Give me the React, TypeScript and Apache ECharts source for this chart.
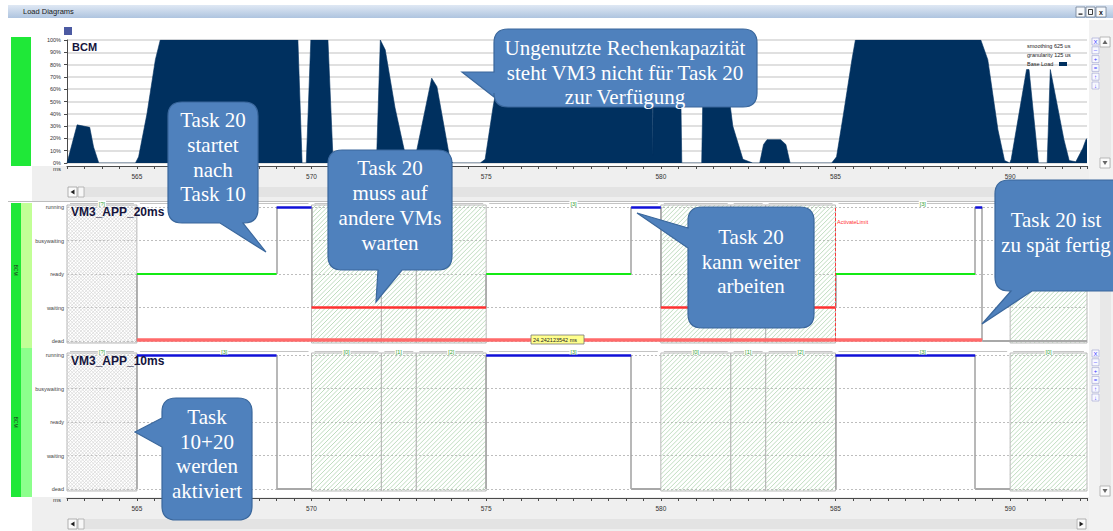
import React, { useEffect, useRef } from "react";
import * as echarts from "echarts";

// ---------------- data ----------------
const TIME_MIN = 563;
const TIME_MAX = 592.2;

// BCM base load (%), sampled change points [ms]
const loadTimes = [563.0,563.29,563.65,563.76,563.91,564.96,565.05,565.29,565.53,565.67,569.61,569.73,569.85,569.98,570.47,570.62,571.76,571.87,571.97,572.11,572.39,572.62,572.74,572.94,573.01,573.44,573.59,573.97,574.05,574.83,574.97,575.2,575.54,579.75,579.77,579.79,580.55,580.6,581.17,581.23,581.75,582.06,582.35,582.63,582.83,582.94,583.04,583.43,583.58,583.7,584.89,585.03,585.23,585.47,585.57,589.16,589.36,589.65,589.84,589.99,590.03,590.47,590.54,590.81,591.06,591.15,591.54,591.69,591.88,592.08,592.17,592.2];
const loadValues = [0,31,29,13,0,0,5,40,84,100,100,0,0,100,100,0,0,10,100,92,45,15,0,0,10,69,62,2,0,0,3,46,100,100,6,100,100,0,0,100,100,30,3,0,0,15,19,19,15,0,0,5,40,84,100,100,84,27,2,0,3,76,76,0,0,76,19,2,1,12,19,20];

const stateNames = ["dead", "waiting", "ready", "busywaiting", "running"];

// VM3_APP_20ms (Task 20): state in [times[i], times[i+1]]
const task20Times = [563, 565, 569, 570, 575, 579.15, 580, 585, 589, 589.2, 592.2];
const task20States = ["inactive", "ready", "running", "waiting", "ready", "running", "waiting", "ready", "running", "dead"];
const task20Deadline = [565, 589.2];

// VM3_APP_10ms (Task 10)
const task10Times = [563, 565, 569, 570, 575, 579.15, 580, 585, 589, 590, 592.2];
const task10States = ["inactive", "running", "dead", "suspended", "running", "dead", "suspended", "running", "dead", "suspended"];

const inactiveSpan = [563, 565];
const waitSpans = [[570, 572], [572, 573], [573, 575], [580, 582], [582, 583], [583, 585], [590, 592.2]];

const segBounds = [563, 565, 570, 572, 573, 575, 580, 582, 583, 585, 590, 592.2];
const segLabels = ["?", "3", "0", "1", "2", "3", "0", "1", "2", "3", "0"];

const activateLimit = 585;
const cursorText = "24.242123542 ms";

const legendLines = ["smoothing 625 us", "granularity 125 us", "Base Load"];
const toolIcons = ["X", "\u2013", "+", "=", "\u2191", "\u2193"];

// ---------------- annotations ----------------
const CALLOUTS: any[] = [
  { x: 168, y: 102, w: 90, h: 121, side: "bottom", a: 220, b: 243, tx: 266, ty: 252, cx: 213, lines: ["Task 20", "startet", "nach", "Task 10"], ys: [120, 145, 169.5, 194] },
  { x: 328, y: 150, w: 124, h: 120, side: "bottom", a: 378, b: 402, tx: 376, ty: 302, cx: 390, lines: ["Task 20", "muss auf", "andere VMs", "warten"], ys: [168, 193, 218, 243] },
  { x: 494, y: 29, w: 263, h: 78, side: "left", a: 72, b: 97, tx: 462, ty: 72, cx: 625, lines: ["Ungenutzte Rechenkapazität", "steht VM3 nicht für Task 20", "zur Verfügung"], ys: [48, 72.5, 97] },
  { x: 688, y: 207, w: 126, h: 121, side: "left", a: 228, b: 248, tx: 637, ty: 213, cx: 751, lines: ["Task 20", "kann weiter", "arbeiten"], ys: [237, 261.5, 286] },
  { x: 995, y: 180, w: 135, h: 111, side: "bottom", a: 1011, b: 1032, tx: 982, ty: 324, cx: 1056, lines: ["Task 20 ist", "zu spät fertig"], ys: [220, 245] },
  { x: 162, y: 398, w: 90, h: 122, side: "left", a: 418, b: 447, tx: 135, ty: 432, cx: 207, lines: ["Task", "10+20", "werden", "aktiviert"], ys: [417, 441.5, 466, 490.5] },
];

function calloutPath(c: any) {
  const { x, y, w, h } = c;
  const r = 14;
  const x2 = x + w, y2 = y + h;
  let d = `M${x + r} ${y} L${x2 - r} ${y} Q${x2} ${y} ${x2} ${y + r} L${x2} ${y2 - r} Q${x2} ${y2} ${x2 - r} ${y2} `;
  if (c.side === "bottom") d += `L${c.b} ${y2} L${c.tx} ${c.ty} L${c.a} ${y2} `;
  d += `L${x + r} ${y2} Q${x} ${y2} ${x} ${y2 - r} `;
  if (c.side === "left") d += `L${x} ${c.b} L${c.tx} ${c.ty} L${x} ${c.a} `;
  d += `L${x} ${y + r} Q${x} ${y} ${x + r} ${y} Z`;
  return d;
}

CALLOUTS.forEach((c, i) => {
  echarts.graphic.registerShape("callout" + i, echarts.graphic.extendPath(calloutPath(c), {}));
});

function underCallout(px: number, py: number) {
  return CALLOUTS.some((c) => px > c.x - 6 && px < c.x + c.w + 6 && py > c.y - 4 && py < c.y + c.h + 4);
}

const LEVEL: any = { inactive: 0, dead: 0, suspended: 0, waiting: 1, ready: 2, busywaiting: 3, running: 4 };
const COLOR: any = { ready: "#14ea14", running: "#1010d8", waiting: "#ff3030", dead: "#a8a8a8" };
const WIDTH: any = { ready: 2, running: 2.5, waiting: 2.5, dead: 2 };

function buildSegments(times: number[], states: string[]) {
  const horiz: any[] = [];
  const vert: any[] = [];
  for (let i = 0; i < states.length; i++) {
    const st = states[i];
    const lv = LEVEL[st];
    const t0 = times[i], t1 = times[i + 1];
    if (i > 0) {
      const plv = LEVEL[states[i - 1]];
      if (plv !== lv) vert.push({ coords: [[t0, plv], [t0, lv]] });
    }
    if (COLOR[st]) horiz.push({ coords: [[t0, lv], [t1, lv]], lineStyle: { color: COLOR[st], width: WIDTH[st], opacity: 1 } });
  }
  return { horiz, vert };
}

const FONT = "Liberation Sans, Arial, sans-serif";

function hatchRender(params: any, api: any) {
  const s = api.value(0), e = api.value(1), kind = api.value(2);
  const tl = api.coord([s, 4]);
  const br = api.coord([e, 0]);
  const x0 = tl[0], x1 = br[0], y0 = tl[1] - 2, y1 = br[1] + 2;
  const children: any[] = [];
  const step = kind === 1 ? 3.5 : 4.5;
  const color = kind === 1 ? "#d6d6d6" : "#a4cda4";
  for (let c = x0 + y0 + step; c < x1 + y1; c += step) {
    const xa = Math.max(x0, c - y1), xb = Math.min(x1, c - y0);
    if (xb <= xa) continue;
    children.push({ type: "line", silent: true, shape: { x1: xa, y1: c - xa, x2: xb, y2: c - xb }, style: { stroke: color, lineWidth: 0.7 } });
  }
  if (kind === 1) {
    for (let c = y0 - x1 + step; c < y1 - x0; c += step) {
      const xa = Math.max(x0, y0 - c), xb = Math.min(x1, y1 - c);
      if (xb <= xa) continue;
      children.push({ type: "line", silent: true, shape: { x1: xa, y1: xa + c, x2: xb, y2: xb + c }, style: { stroke: color, lineWidth: 0.7 } });
    }
  }
  children.push({ type: "rect", silent: true, shape: { x: x0, y: y0, width: x1 - x0, height: y1 - y0 }, style: { fill: "none", stroke: "#b9b9b9", lineWidth: 1 } });
  return { type: "group", children };
}

function tabRender(params: any, api: any) {
  const s = api.value(0), e = api.value(1), idx = api.value(2);
  const a = api.coord([s, 4]);
  const b = api.coord([e, 4]);
  const y = a[1] - 3.5;
  const cx = (a[0] + b[0]) / 2;
  const children: any[] = [
    { type: "line", silent: true, shape: { x1: a[0] + 3, y1: y, x2: b[0] - 3, y2: y }, style: { stroke: "#c4c4c4", lineWidth: 1 } },
  ];
  if (!underCallout(cx, y)) {
    children.push({ type: "text", silent: true, x: cx, y, style: { text: "[" + segLabels[idx] + "]", fill: "#2e9e2e", fontSize: 5.5, fontFamily: FONT, align: "center", verticalAlign: "middle", textAlign: "center", textVerticalAlign: "middle", backgroundColor: "#ffffff", padding: [0, 1] } });
  }
  return { type: "group", children };
}

function txt(x: number, y: number, text: string, size: number, fill: string, o: any = {}) {
  return {
    type: "text", x, y, z: o.z ?? 20, silent: true, rotation: o.rotation ?? 0,
    style: {
      text, fill, fontSize: size, fontFamily: o.family ?? FONT, fontWeight: o.weight ?? "normal",
      align: o.align ?? "left", verticalAlign: o.valign ?? "middle", textAlign: o.align ?? "left", textVerticalAlign: o.valign ?? "middle",
    },
  };
}
function rect(x: number, y: number, w: number, h: number, fill: any, o: any = {}) {
  return { type: "rect", z: o.z ?? -10, silent: true, shape: { x, y, width: w, height: h }, style: { fill, stroke: o.stroke, lineWidth: o.lw ?? 1 } };
}
function tri(points: number[][], fill: string) {
  return { type: "polygon", z: 5, silent: true, shape: { points }, style: { fill } };
}

function buildOption() {
  const hatchData = [[inactiveSpan[0], inactiveSpan[1], 1], ...waitSpans.map((s) => [s[0], s[1], 0])];
  const tabData = segLabels.map((_, i) => [segBounds[i], segBounds[i + 1], i]);
  const t20 = buildSegments(task20Times, task20States);
  const t10 = buildSegments(task10Times, task10States);
  const deadline = { coords: [[task20Deadline[0], 0.05], [task20Deadline[1], 0.05]], lineStyle: { color: "#ff6a6a", width: 3.5, opacity: 1 } };

  const xBase = (grid: number, offset: number, show: boolean) => ({
    type: "value", gridIndex: grid, min: TIME_MIN, max: TIME_MAX, interval: 0.5, offset, show,
    axisLine: { show: true, onZero: false, lineStyle: { color: "#4a4a4a", width: 1 } },
    axisTick: { show: true, length: 3, lineStyle: { color: "#4a4a4a" } },
    axisLabel: { fontSize: 6.5, color: "#333", margin: 7, fontFamily: FONT, formatter: (v: number) => (Math.abs(v % 5) < 1e-9 ? String(v) : "") },
    splitLine: { show: false },
  });
  const yState = (grid: number) => ({
    type: "value", gridIndex: grid, min: 0, max: 4, interval: 1,
    axisLine: { show: false }, axisTick: { show: false },
    axisLabel: { fontSize: 5.5, color: "#444", margin: 3, fontFamily: FONT, formatter: (v: number) => stateNames[v] ?? "" },
    splitLine: { lineStyle: { color: "#bdbdbd", type: [2, 2], width: 1 } },
  });

  const stateSeries = (axis: number, seg: any, extra: any[]) => [
    { type: "custom", xAxisIndex: axis, yAxisIndex: axis, data: hatchData, renderItem: hatchRender, z: 1, silent: true },
    { type: "custom", xAxisIndex: axis, yAxisIndex: axis, data: tabData, renderItem: tabRender, z: 4, silent: true },
    { type: "lines", coordinateSystem: "cartesian2d", xAxisIndex: axis, yAxisIndex: axis, clip: false, silent: true, z: 2, lineStyle: { color: "#a0a0a0", width: 1.5, curveness: 0, opacity: 1 }, data: seg.vert },
    { type: "lines", coordinateSystem: "cartesian2d", xAxisIndex: axis, yAxisIndex: axis, clip: false, silent: true, z: 3, lineStyle: { curveness: 0, opacity: 1 }, data: [...extra, ...seg.horiz] },
  ];

  const G: any[] = [];
  // window chrome
  G.push(rect(8, 5, 1105, 13, new echarts.graphic.LinearGradient(0, 0, 0, 1, [{ offset: 0, color: "#dfe8f4" }, { offset: 1, color: "#aec4df" }])));
  G.push(txt(23, 11.5, "Load Diagrams", 7.5, "#1a1a1a"));
  G.push(rect(1076, 7, 9, 10, "#f6f8fb", { stroke: "#6f7f96", lw: 0.8, z: 5 }));
  G.push(rect(1086, 7, 9, 10, "#f6f8fb", { stroke: "#6f7f96", lw: 0.8, z: 5 }));
  G.push(rect(1096, 7, 10, 10, "#f6f8fb", { stroke: "#6f7f96", lw: 0.8, z: 5 }));
  G.push(rect(1078.5, 13.5, 4, 1.2, "#111", { z: 6 }));
  G.push(rect(1088.5, 9.5, 4, 5, "none", { stroke: "#111", lw: 0.8, z: 6 }));
  G.push(txt(1101, 12, "x", 7, "#111", { align: "center", weight: "bold", z: 6 }));
  G.push(rect(64, 27, 8, 8, "#4c5aa2", { z: 5 }));
  // side bars
  G.push(rect(11, 37, 20, 129, "#1fe838"));
  G.push(rect(11, 203, 10, 294, "#1fe838"));
  G.push(rect(21, 203, 11, 145, "#c2ff96"));
  G.push(rect(21, 348, 11, 149, "#8cff8c"));
  G.push(txt(16, 270, "BCM", 5, "#1a3a1a", { align: "center", rotation: -Math.PI / 2 }));
  G.push(txt(16, 422, "BCM", 5, "#1a3a1a", { align: "center", rotation: -Math.PI / 2 }));
  // gray panels
  G.push(rect(32, 166, 1057, 35, "#efefef"));
  G.push(rect(32, 497, 1057, 34, "#efefef"));
  G.push(rect(1089, 20, 24, 511, "#f2f2f2"));
  G.push({ type: "line", z: -5, silent: true, shape: { x1: 8, y1: 201.5, x2: 1113, y2: 201.5 }, style: { stroke: "#bdbdbd", lineWidth: 1 } });
  // horizontal scrollbars
  G.push(rect(78, 187, 1005, 10, "#e3e3e3", { z: -6 }));
  G.push(rect(68, 187, 9, 10, "#fbfbfb", { stroke: "#a0a0a0", lw: 0.8, z: -5 }));
  G.push(tri([[70.5, 192], [74.5, 189.5], [74.5, 194.5]], "#222"));
  G.push(rect(78, 187, 6, 10, "#f7f7f7", { stroke: "#a8a8a8", lw: 0.8, z: -5 }));
  G.push(rect(78, 519, 998, 10, "#e3e3e3", { z: -6 }));
  G.push(rect(68, 519, 9, 10, "#fbfbfb", { stroke: "#a0a0a0", lw: 0.8, z: -5 }));
  G.push(tri([[70.5, 524], [74.5, 521.5], [74.5, 526.5]], "#222"));
  G.push(rect(78, 519, 6, 10, "#f7f7f7", { stroke: "#a8a8a8", lw: 0.8, z: -5 }));
  G.push(rect(1077, 519, 9, 10, "#fbfbfb", { stroke: "#a0a0a0", lw: 0.8, z: -5 }));
  G.push(tri([[1083.5, 524], [1079.5, 521.5], [1079.5, 526.5]], "#222"));
  // vertical scrollbars
  G.push(rect(1100, 37, 11, 131, "#e8e8e8", { z: -6 }));
  G.push(rect(1100, 37, 10, 10, "#fbfbfb", { stroke: "#aaa", lw: 0.8, z: -5 }));
  G.push(tri([[1105, 40], [1102.5, 44], [1107.5, 44]], "#666"));
  G.push(rect(1100, 158, 10, 10, "#fbfbfb", { stroke: "#aaa", lw: 0.8, z: -5 }));
  G.push(tri([[1105, 165], [1102.5, 161], [1107.5, 161]], "#666"));
  G.push(rect(1100, 203, 11, 294, "#e8e8e8", { z: -6 }));
  G.push(rect(1100, 486, 10, 10, "#fbfbfb", { stroke: "#aaa", lw: 0.8, z: -5 }));
  G.push(tri([[1105, 493], [1102.5, 489], [1107.5, 489]], "#666"));
  // tool icons
  [38, 350].forEach((y0) => {
    toolIcons.forEach((g, i) => {
      const y = y0 + i * 8.8;
      G.push(rect(1092, y, 7, 7, "#f8f8ff", { stroke: "#9aa0d0", lw: 0.6, z: 5 }));
      G.push(txt(1095.5, y + 3.6, g, 6, "#3b3bff", { align: "center", z: 6 }));
    });
  });
  // legend
  legendLines.forEach((t, i) => G.push(txt(1027, 46 + i * 9, t, 5.5, "#222")));
  G.push(rect(1059, 62, 8, 4, "#00305f", { z: 6 }));
  // ms labels
  G.push(txt(53, 168.5, "ms", 6, "#333"));
  G.push(txt(53, 499.5, "ms", 6, "#333"));
  // titles
  G.push(txt(72, 47, "BCM", 11, "#14143c", { weight: "bold", z: 30 }));
  G.push(txt(71, 212, "VM3_APP_20ms", 12, "#14143c", { weight: "bold", z: 30 }));
  G.push(txt(71, 360.5, "VM3_APP_10ms", 12, "#14143c", { weight: "bold", z: 30 }));
  G.push(txt(837, 222, "ActivateLimit", 5.5, "#ff3030"));
  // cursor box
  G.push(rect(531, 335, 53, 9, "#ffff8c", { stroke: "#777", lw: 0.8, z: 30 }));
  G.push(txt(533, 339.5, cursorText, 5.5, "#222", { z: 31 }));
  // callouts
  CALLOUTS.forEach((c, i) => {
    G.push({ type: "callout" + i, x: 0, y: 0, z: 100, silent: true, style: { fill: "#4f81bd", stroke: "#3a679c", lineWidth: 1.2 } });
    c.lines.forEach((t: string, j: number) => G.push(txt(c.cx, c.ys[j], t, 21, "#ffffff", { family: "Liberation Serif, Times New Roman, serif", align: "center", z: 101 })));
  });

  return {
    animation: false,
    textStyle: { fontFamily: FONT },
    grid: [
      { left: 67, right: 26, top: 40, height: 123 },
      { left: 67, right: 26, top: 207, height: 134 },
      { left: 67, right: 26, top: 355, height: 134 },
    ],
    xAxis: [xBase(0, 3, true), xBase(1, 0, false), xBase(2, 9, true)],
    yAxis: [
      {
        type: "value", gridIndex: 0, min: 0, max: 100, interval: 10,
        axisLine: { show: true, lineStyle: { color: "#4a4a4a" } },
        axisTick: { show: true, length: 3, lineStyle: { color: "#4a4a4a" } },
        axisLabel: { fontSize: 5.5, color: "#333", margin: 6, fontFamily: FONT, formatter: "{value}%" },
        splitLine: { lineStyle: { color: "#e0e0e0", width: 2 } },
      },
      yState(1),
      yState(2),
    ],
    series: [
      {
        type: "line", xAxisIndex: 0, yAxisIndex: 0, symbol: "none", silent: true, z: 2,
        data: loadTimes.map((t, i) => [t, loadValues[i]]),
        lineStyle: { color: "#00305f", width: 0.6 },
        areaStyle: { color: "#00305f", opacity: 1 },
      },
      ...stateSeries(1, t20, [deadline]),
      {
        type: "line", xAxisIndex: 1, yAxisIndex: 1, symbol: "none", silent: true, z: 6, data: [[activateLimit, 0]], lineStyle: { opacity: 0 },
        markLine: { silent: true, symbol: ["none", "none"], label: { show: false }, lineStyle: { color: "#ff3838", type: [3, 2], width: 1 }, data: [{ xAxis: activateLimit }] },
      },
      ...stateSeries(2, t10, []),
    ],
    graphic: { elements: G },
  };
}

export default function App() {
  const ref = useRef<HTMLDivElement>(null);
  useEffect(() => {
    const chart = echarts.init(ref.current as HTMLDivElement, null, { renderer: "svg" });
    chart.setOption(buildOption() as any);
    return () => chart.dispose();
  }, []);
  return <div ref={ref} style={{ position: "fixed", left: 0, top: 0, width: 1113, height: 531, background: "#ffffff" }} />;
}
